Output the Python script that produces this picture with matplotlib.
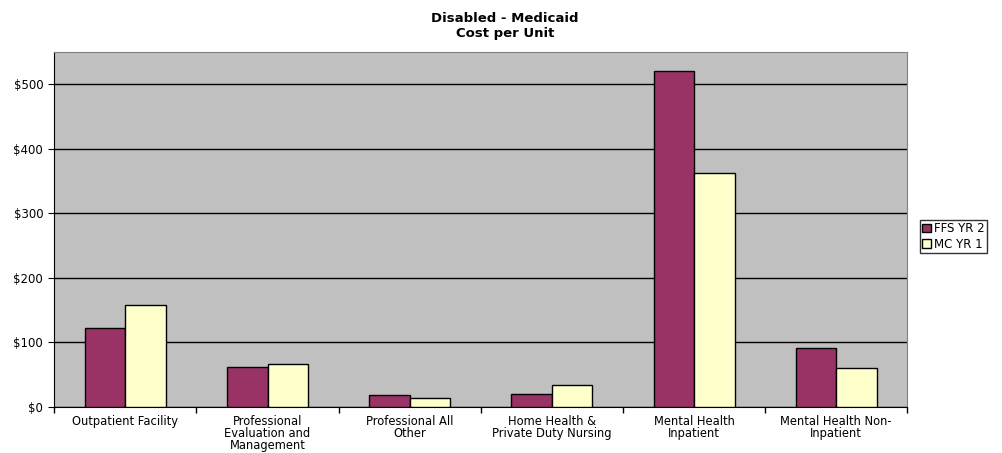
import matplotlib
matplotlib.use("Agg")
import matplotlib.pyplot as plt
import numpy as np
from matplotlib.ticker import FuncFormatter, FixedLocator

plt.rcParams['font.family'] = ['DejaVu Sans']

categories = ["Outpatient Facility", "Professional\nEvaluation and\nManagement",
              "Professional All\nOther", "Home Health &\nPrivate Duty Nursing",
              "Mental Health\nInpatient", "Mental Health Non-\nInpatient"]
series_names = ["FFS YR 2", "MC YR 1"]
ffs_yr2 = [122.6, 61.3, 18.5, 20.6, 520, 90.7]
mc_yr1 = [157.6, 66.5, 14.4, 34.0, 362, 59.8]
colors = ["#993366", "#FFFFCC"]

fig = plt.figure(figsize=(10.03, 4.53), dpi=100)
ax = fig.add_axes([54.3/1003, 1-407/453, (907.3-54.3)/1003, (407-51.7)/453])
ax.set_facecolor("#C0C0C0")

x = np.arange(len(categories))
w = 0.285
ax.bar(x - w/2, ffs_yr2, w, color=colors[0], edgecolor="black", linewidth=1.0, label=series_names[0], zorder=3)
ax.bar(x + w/2, mc_yr1, w, color=colors[1], edgecolor="black", linewidth=1.0, label=series_names[1], zorder=3)

ax.set_xlim(-0.5, len(categories) - 0.5)
ax.set_ylim(0, 550)
ax.set_yticks([0, 100, 200, 300, 400, 500])
ax.yaxis.set_major_formatter(FuncFormatter(lambda v, p: f"${int(v)}"))
ax.yaxis.grid(True, color="black", linewidth=1.0, zorder=1)
ax.set_axisbelow(True)

ax.set_xticks(x)
ax.set_xticklabels(categories, fontsize=8.3, linespacing=0.88)
ax.tick_params(axis='x', which='major', length=0, pad=6)
ax.xaxis.set_minor_locator(FixedLocator(np.arange(-0.5, len(categories), 1.0)))
ax.tick_params(axis='x', which='minor', length=4, direction='out', width=1)
ax.tick_params(axis='y', length=4, direction='out', labelsize=8.5, pad=4)

for s in ['top', 'right']:
    ax.spines[s].set_color('#808080')
ax.spines['left'].set_color('black')
ax.spines['bottom'].set_color('black')

fig.text(505/1003, 1-25.5/453, "Disabled - Medicaid\nCost per Unit", ha='center', va='center',
         fontsize=9.5, fontweight='bold', linespacing=1.2)

leg = fig.legend(loc='upper left', bbox_to_anchor=(920/1003, 1-220.5/453), fontsize=8.5,
                 frameon=True, fancybox=False, edgecolor='black', borderpad=0.15,
                 handlelength=0.75, handleheight=0.75, handletextpad=0.3, labelspacing=0.22,
                 borderaxespad=0)
leg.get_frame().set_linewidth(1.0)

fig.savefig("out.png", dpi=100)
